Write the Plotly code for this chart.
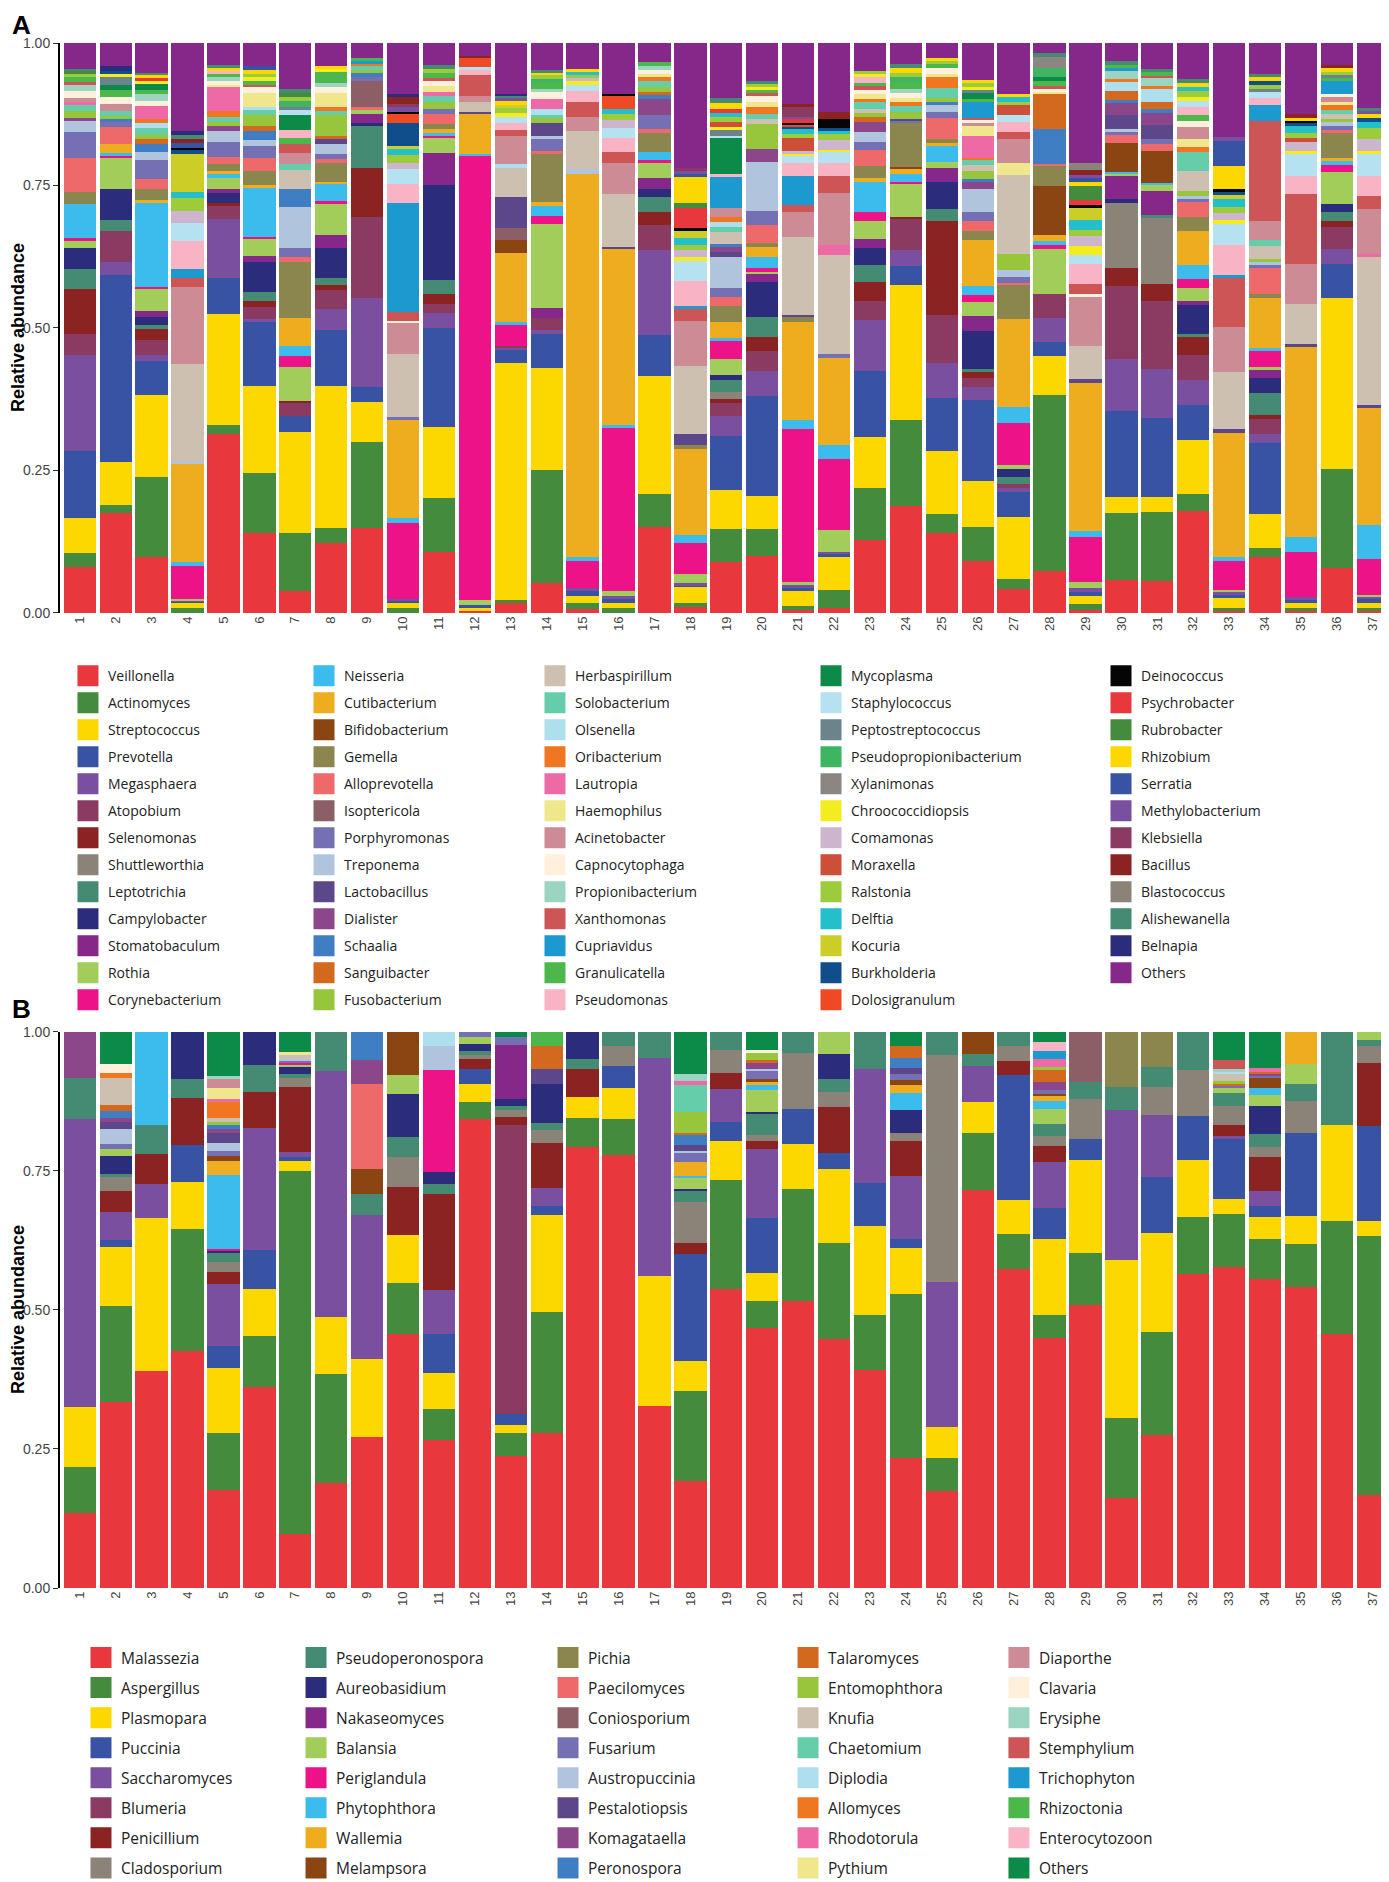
import plotly.graph_objects as go

samples = [str(i) for i in range(1, 38)]

# colour cycle used by both panels (Others just takes the next colour in the cycle)
palette = [
    "#E8383D", "#458B3E", "#FDD800", "#3953A4", "#7A4FA0", "#8B3A62", "#8B2323",
    "#8B8378", "#458B74", "#2B2C7C", "#86288A", "#A2CD5A", "#EE1289", "#3BBCEC",
    "#EEAD1E", "#8B4513", "#8B864E", "#EE6A6A", "#8B5F65", "#7570B3", "#B0C4DE",
    "#5D478B", "#8B4789", "#3F7EC2", "#D2691E", "#97C53C", "#CDC0B0", "#66CDAA",
    "#ADDFEF", "#F07622", "#EE6AA7", "#F0E68C", "#CD8C95", "#FFF0DC", "#9BD5C2",
    "#CD5555", "#1C99CF", "#4CB74A", "#F8B4C4", "#0B8A48", "#B5E1F1", "#6B838C",
    "#3FB562", "#8B8682", "#F3EC1E", "#CDB5CD", "#CD4F39", "#9CCB3C", "#23BFCB",
    "#CDCD28", "#104E8B", "#EF4A24", "#050505",
]

# ---------------- A: bacteria (relative abundance per sample 1..37) ----------------
veillonella = [.080,.176,.098,0,.314,.140,.038,.122,.149,0,
               .104,.004,.018,.053,.007,0,.150,.011,.089,.100,
               .006,.009,.127,.187,.140,.091,.042,.074,.006,.058,
               .056,.179,.004,.099,.004,.078,.004]
actinomyces = [.025,.013,.140,.009,.016,.105,.102,.027,.151,.009,
               .092,0,.005,.198,.010,.009,.058,.007,.058,.047,
               .007,.031,.092,.151,.034,.059,.018,.307,.010,.118,
               .120,.029,.005,.015,.005,.174,.005]
streptococcus = [.061,.076,.145,.009,.195,.154,.178,.250,.070,.009,
                 .122,.004,.415,.179,.012,.009,.208,.027,.069,.059,
                 .025,.058,.088,.238,.111,.082,.109,.069,.013,.027,
                 .026,.096,.018,.059,.009,.300,.009]
prevotella = [.119,.328,.059,.002,.063,.111,.027,.097,.027,.003,
              .169,.006,.025,.060,.009,.006,.071,.004,.095,.175,
              .006,.005,.116,.033,.093,.142,.044,.024,.008,.151,
              .139,.061,.005,.125,.005,.060,.006]
megasphaera = [.167,.022,.010,.002,.103,.006,0,.038,.156,.003,
               .026,0,.003,.007,.005,.005,.150,.003,.035,.044,
               .005,.004,.089,.028,.061,.022,.007,.042,.007,.091,
               .085,.043,.004,.016,.005,.027,.005]
atopobium = [.037,.055,.027,0,.023,.021,.023,.032,.141,0,
             .015,0,.003,.021,0,0,.044,0,.022,.035,
             0,0,.033,.054,.084,.016,.007,.042,0,.129,
             .119,.044,0,.026,0,.039,0]
selenomonas = [.080,0,.020,0,.005,.010,.004,.010,.087,0,
               .017,0,0,0,0,0,.022,0,.008,.024,
               0,0,.034,.004,.165,.011,0,0,0,.031,
               .029,.033,0,.007,0,.010,0]
shuttleworthia = [0] * 18 + [.012] + [0] * 10 + [.114, .116] + [0] * 6
leptotrichia = [.035,.020,.006,0,0,.016,0,.012,.074,0,
                .025,0,0,0,0,0,.027,0,.020,.035,
                0,0,.029,0,.020,.005,.011,0,0,0,
                .006,.005,0,.039,0,.016,0]
campylobacter = [.036,.053,.014,0,.017,.052,0,.053,.005,0,
                 .162,0,0,0,0,0,.014,0,.009,.062,
                 0,0,.030,0,.049,.066,.015,0,0,.007,
                 0,.050,0,.026,0,.014,0]
stomatobaculum = [0,0,.011,0,.007,.011,0,.023,.015,0,
                  .054,0,0,.017,0,0,.020,0,0,.013,
                  0,0,.016,0,.024,.027,0,0,0,.040,
                  .042,.008,0,.014,0,0,0]
rothia = [.014,.056,.039,.002,.021,.031,.060,.055,.007,0,
          .026,.008,0,.148,0,.009,.026,.016,.028,.005,
          .005,.038,.031,.058,.011,.025,.007,.078,.010,.004,
          .009,.022,.004,.005,0,.055,.003]
corynebacterium = [.003,.003,.003,.058,0,.003,.018,.003,0,.133,
                   .004,.780,.036,.013,.048,.283,.004,.055,.033,.007,
                   .269,.125,.017,.004,0,.011,.073,.007,.079,0,
                   0,.016,.051,.028,.079,.013,.063]
neisseria = [.060,.005,.147,.007,.006,.086,.018,.031,0,.010,
             .005,.004,.006,.018,.008,.006,.014,.013,.005,.018,
             .016,.024,.051,.013,.027,.017,.029,.007,.011,.004,
             .004,.024,.007,.006,.026,.007,.059]
cutibacterium = [0,.016,.005,.172,.006,.004,.050,.003,0,.172,
                 .007,.069,.120,.007,.672,.305,0,.151,.028,.018,
                 .171,.153,.008,.009,.005,.081,.153,.011,.259,0,
                 0,.060,.218,.088,.334,.006,.206]
bifidobacterium = [0,0,0,0,0,0,0,0,0,0,
                   0,0,.023,0,0,0,0,0,0,0,
                   0,0,0,.004,0,0,0,.086,0,.051,
                   .056,0,0,0,0,0,0]
gemella = [.022,0,.020,0,.012,.026,.098,.033,0,0,
           .009,0,0,.085,0,0,.034,.007,.027,.007,
           .009,0,.021,.076,.007,.015,.060,.034,0,0,
           0,.024,0,.006,0,.043,0]
alloprevotella = [.060,.030,.017,0,.012,.023,.008,.008,.005,0,
                  .016,0,0,.005,0,0,.007,0,.016,.031,
                  0,0,.028,0,.038,.018,.004,.004,0,.013,
                  .012,.027,0,.046,0,.005,0]
isoptericola = [0] * 8 + [.046] + [0] * 3 + [.021] + [0] * 24
porphyromonas = [.045,.008,.034,0,.027,.020,.017,.008,.008,.004,
                 .009,0,0,.021,0,0,.024,0,.017,.026,
                 0,.007,.014,.004,.010,.015,.011,0,0,.006,
                 .009,.005,0,.006,0,.008,0]
treponema = [.019,0,.013,.004,.019,.011,.071,.018,0,0,
             0,0,0,.004,.008,0,0,0,.054,.086,
             0,0,.018,0,.012,.041,.011,0,0,.005,
             0,.005,0,.004,0,.006,0]
lactobacillus = [0,0,0,0,0,0,0,.009,0,0,
                 0,.004,.055,.024,0,.004,0,.020,.009,0,
                 .004,0,0,.004,0,0,0,0,.007,.025,
                 .025,0,.007,0,.005,0,.005]
dialister = [.006,0,0,0,.008,0,0,0,0,0,
             0,0,0,0,0,0,.029,0,.008,.022,
             0,0,.017,0,0,.013,0,0,0,.020,
             .020,0,0,0,0,0,0]
schaalia = [0,.005,.015,0,0,.015,.031,0,.006,0,
            0,0,0,0,0,0,.007,0,.006,0,
            0,0,0,0,.005,.004,0,.061,0,.006,
            .007,0,0,0,0,0,0]
sanguibacter = [0,0,.009,0,0,.009,0,.005,0,0,
                0,0,0,0,0,0,.005,0,0,0,
                0,0,.008,0,0,0,0,.062,0,.015,
                .013,0,0,0,0,0,0]
fusobacterium = [.012,.006,.007,0,.008,.020,0,.036,.006,0,
                 .012,0,0,.008,0,0,.009,0,0,.044,
                 0,0,.007,.012,.007,.015,.028,0,0,0,
                 0,.009,0,.006,0,.006,0]
herbaspirillum = [0,0,0,.172,0,0,.035,0,0,.111,
                  0,.017,.051,0,.067,.092,0,.119,.020,.009,
                  .137,.174,.008,0,0,.010,.139,0,.058,0,
                  0,.036,.100,.022,.070,.008,.259]
solobacterium = [.010,.008,.011,0,.009,.009,.009,.007,.006,0,
                 .010,0,0,.006,0,0,.011,0,.009,.009,
                 0,0,.011,.010,.018,.009,0,0,0,0,
                 0,.032,0,.012,0,.008,0]
olsenella = [0,0,.009,0,0,.005,0,0,0,0,
             0,0,.006,.010,0,0,0,0,.009,0,
             0,0,0,0,0,0,0,0,0,.016,
             .022,0,0,0,0,0,0]
oribacterium = [0,0,.007,0,.009,0,0,.007,.005,0,
                0,0,0,0,0,0,.006,0,.009,.011,
                0,0,.006,.007,.020,.004,0,0,0,.005,
                .006,.010,0,0,0,.008,0]
lautropia = [.006,0,.024,0,.043,0,0,0,0,0,
             .008,0,0,.018,0,0,0,0,0,0,
             0,.018,0,0,0,.038,0,0,0,0,
             0,0,0,0,0,0,.005]
haemophilus = [0,0,0,0,.004,.025,0,.025,0,0,
               .010,0,0,0,0,0,.006,0,0,.009,
               0,0,.008,.008,.005,.018,.022,.004,0,0,
               0,.013,0,0,0,.006,0]
acinetobacter = [.006,.013,0,.135,0,0,.020,0,0,.056,
                 0,.011,.049,0,.024,.054,0,.080,.015,0,
                 .044,.090,0,0,0,.004,.041,0,.088,0,
                 0,.022,.078,.033,.070,.008,.080]
capnocytophaga = [.012,.012,.009,0,.007,.009,0,.010,0,.003,
                  .008,0,0,.012,0,0,.007,0,0,.011,
                  0,0,.008,.008,.011,.006,0,.004,.003,0,
                  0,.010,0,0,0,.006,0]
propionibacterium = [.012,0,.011,0,.006,0,0,.008,0,0,
                     0,0,0,.006,0,0,.006,0,0,0,
                     0,0,0,.008,0,0,0,0,0,.015,
                     .013,0,0,0,0,0,0]
xanthomonas = [.005,0,0,.015,0,.005,.015,0,0,.015,
               .005,.036,.012,0,.027,.019,0,.021,0,.005,
               .012,.030,.006,0,0,.003,.013,.005,.018,0,
               .005,0,.087,.175,.123,0,.022]
cupriavidus = [0,0,0,.017,0,0,0,0,.004,.192,
               0,0,0,0,0,0,0,.004,.055,0,
               .051,0,0,0,0,.029,0,0,0,.005,
               0,0,.005,.029,0,.022,0]
granulicatella = [.008,.012,.008,0,.006,.006,.012,.020,.005,0,
                  .008,0,0,.009,0,0,.007,0,0,.006,
                  0,0,.006,.012,.006,.004,0,.010,0,.006,
                  .006,.011,0,0,0,.006,0]
pseudomonas = [0,0,0,.048,.005,0,.014,0,0,.033,
               0,.010,.011,0,.018,.024,0,.044,.006,0,
               .022,.023,.010,0,0,0,.017,0,.035,0,
               0,.014,.053,.012,.031,0,.036]
mycoplasma = [0,.010,.010,0,0,0,.026,0,0,0,
              0,0,0,0,0,0,0,0,.062,0,
              0,0,0,0,0,.011,0,.006,0,0,
              0,0,0,0,0,0,0]
staphylococcus = [0,0,0,.032,0,0,.008,0,0,.026,
                  0,.005,.012,0,.012,.018,0,.035,.004,0,
                  .013,.019,0,0,0,0,.012,0,.016,0,
                  0,.010,.037,.010,.040,0,.038]
peptostreptococcus = [0,.014,0,0,0,0,.006,0,0,0,
                      0,0,0,0,0,0,0,0,.010,0,
                      0,0,0,0,0,.006,0,0,0,0,
                      0,0,0,.006,0,.005,0]
pseudopropionibacterium = [0,0,0,0,0,0,.010,0,0,0,
                           0,0,0,.008,0,0,0,0,0,0,
                           0,0,0,.008,0,0,0,.016,0,0,
                           0,0,0,0,0,0,0]
xylanimonas = [0] * 27 + [.020] + [0] * 9
chroococcidiopsis = [0,.004,.005,0,0,.007,0,.005,0,0,
                     0,0,.007,0,.006,0,0,.007,.006,.005,
                     .003,.005,.005,0,0,.005,0,0,.016,0,
                     0,.008,.006,0,.005,0,.005]
comamonas = [0,0,0,.022,0,0,0,0,0,.010,
             0,0,0,0,.006,.014,0,.013,0,0,
             .006,.017,0,0,0,0,0,0,.018,0,
             0,0,.013,0,.015,0,.021]
moraxella = [0,0,0,0,0,0,0,0,0,0,
             0,0,0,0,0,0,0,0,.008,0,
             .022,0,0,0,0,0,.018,0,0,0,
             0,0,0,0,.007,0,0]
ralstonia = [.006,0,0,.022,0,.005,.008,0,0,.015,
             .008,0,.008,.006,.005,.011,0,.009,.010,.005,
             .007,.010,.006,.008,.005,.006,.006,0,.010,0,
             0,.010,.010,.006,.009,.006,.019]
delftia = [0,0,0,.011,0,0,0,0,0,.010,
           0,0,0,0,.005,.009,0,.011,.006,0,
           .009,.006,0,0,0,0,.008,0,.017,0,
           0,.007,.015,0,.012,0,.012]
kocuria = [0,0,0,.066,0,0,0,0,0,.005,
           0,0,.006,0,0,0,0,.013,0,0,
           0,0,0,0,0,0,0,0,.022,0,
           0,0,.006,0,0,0,0]
burkholderia = [0,.006,0,.008,0,0,0,0,0,.041,
                0,0,0,0,0,0,0,0,0,0,
                .004,.005,0,0,0,0,0,0,0,0,
                0,0,.006,.008,.005,0,.006]
dolosigranulum = [0,0,0,0,0,0,0,0,0,.015,
                  0,.015,0,0,0,.022,0,0,0,0,
                  .004,0,0,0,0,0,0,0,0,0,
                  0,0,0,0,0,0,0]
deinococcus = [0,0,0,.003,0,0,0,0,0,.004,
               0,0,0,0,0,.003,0,.005,0,0,
               .003,.015,0,0,0,0,0,0,.005,0,
               0,0,.004,0,.004,0,0]
psychrobacter = [0,0,.005,0,0,0,0,0,0,0,
                 0,0,0,0,0,0,0,.035,.008,0,
                 .006,0,0,0,0,0,0,0,.008,0,
                 0,0,0,0,0,0,0]
rubrobacter = [.005,0,0,0,0,0,.006,0,0,0,
               0,0,0,0,0,0,0,.009,0,0,
               0,0,0,0,0,0,0,0,.025,0,
               0,0,0,0,0,0,0]
rhizobium = [0,0,.005,0,.005,.008,0,.005,0,0,
             0,0,.006,.005,.006,0,0,.046,.010,0,
             0,0,0,.008,.005,.006,.006,0,.008,0,
             0,.007,.041,.006,.006,.006,.008]
serratia = [0,0,0,.008,0,.007,0,0,0,0,
            0,0,0,0,0,0,0,.006,0,0,
            0,0,0,0,0,0,0,0,.006,0,
            0,0,.044,0,0,0,0]
methylobacterium = [0,0,0,0,0,0,0,0,0,.008,
                    0,0,.005,0,0,0,0,.005,0,0,
                    .005,0,0,0,0,0,0,0,.006,0,
                    0,0,.007,0,0,0,.005]
klebsiella = [0,0,0,0,0,0,0,0,0,.006,
              0,0,0,0,0,0,0,.005,0,0,
              .017,0,0,0,0,0,0,0,0,0,
              0,0,0,0,0,0,0]
bacillus = [0,0,0,.007,0,0,0,0,0,.012,
            0,.005,0,0,0,0,0,0,0,0,
            .005,.013,0,0,0,0,0,0,.008,0,
            0,0,0,0,.006,.006,0]
blastococcus = [0] * 28 + [.012] + [0] * 8
alishewanella = [.004,0,.005,.007,.005,0,.007,0,0,0,
                 .006,0,.004,.005,0,0,0,0,.009,.005,
                 0,0,0,.008,0,0,0,.006,0,.006,
                 .006,.007,0,.006,0,0,.005]
belnapia = [0,.008,0,.007,0,0,0,0,0,.006,
            0,0,.004,0,0,0,0,0,0,0,
            0,0,0,0,0,0,0,0,0,0,
            0,0,0,0,0,0,0]
others_a = [.045,.041,.052,.155,.039,.040,.081,.040,.027,.089,
            .038,.022,.089,.047,.045,.089,.034,.219,.096,.067,
            .107,.121,.049,.036,.027,.065,.089,.018,.211,.032,
            .045,.063,.165,.054,.125,.038,.114]

bacteria = [
    ("Veillonella", veillonella), ("Actinomyces", actinomyces), ("Streptococcus", streptococcus),
    ("Prevotella", prevotella), ("Megasphaera", megasphaera), ("Atopobium", atopobium),
    ("Selenomonas", selenomonas), ("Shuttleworthia", shuttleworthia), ("Leptotrichia", leptotrichia),
    ("Campylobacter", campylobacter), ("Stomatobaculum", stomatobaculum), ("Rothia", rothia),
    ("Corynebacterium", corynebacterium), ("Neisseria", neisseria), ("Cutibacterium", cutibacterium),
    ("Bifidobacterium", bifidobacterium), ("Gemella", gemella), ("Alloprevotella", alloprevotella),
    ("Isoptericola", isoptericola), ("Porphyromonas", porphyromonas), ("Treponema", treponema),
    ("Lactobacillus", lactobacillus), ("Dialister", dialister), ("Schaalia", schaalia),
    ("Sanguibacter", sanguibacter), ("Fusobacterium", fusobacterium), ("Herbaspirillum", herbaspirillum),
    ("Solobacterium", solobacterium), ("Olsenella", olsenella), ("Oribacterium", oribacterium),
    ("Lautropia", lautropia), ("Haemophilus", haemophilus), ("Acinetobacter", acinetobacter),
    ("Capnocytophaga", capnocytophaga), ("Propionibacterium", propionibacterium),
    ("Xanthomonas", xanthomonas), ("Cupriavidus", cupriavidus), ("Granulicatella", granulicatella),
    ("Pseudomonas", pseudomonas), ("Mycoplasma", mycoplasma), ("Staphylococcus", staphylococcus),
    ("Peptostreptococcus", peptostreptococcus), ("Pseudopropionibacterium", pseudopropionibacterium),
    ("Xylanimonas", xylanimonas), ("Chroococcidiopsis", chroococcidiopsis), ("Comamonas", comamonas),
    ("Moraxella", moraxella), ("Ralstonia", ralstonia), ("Delftia", delftia), ("Kocuria", kocuria),
    ("Burkholderia", burkholderia), ("Dolosigranulum", dolosigranulum), ("Deinococcus", deinococcus),
    ("Psychrobacter", psychrobacter), ("Rubrobacter", rubrobacter), ("Rhizobium", rhizobium),
    ("Serratia", serratia), ("Methylobacterium", methylobacterium), ("Klebsiella", klebsiella),
    ("Bacillus", bacillus), ("Blastococcus", blastococcus), ("Alishewanella", alishewanella),
    ("Belnapia", belnapia), ("Others", others_a),
]

# ---------------- B: fungi ----------------
malassezia = [.135,.333,.390,.427,.175,.361,.096,.189,.271,.456,
              .266,.843,.238,.278,.794,.778,.328,.190,.538,.464,
              .516,.447,.392,.234,.175,.715,.573,.447,.509,.162,
              .276,.564,.566,.548,.541,.457,.167]
aspergillus = [.082,.173,0,.218,.101,.093,.651,.195,0,.092,
               .056,.031,.040,.218,.051,.065,0,.160,.196,.048,
               .201,.173,.099,.293,.058,.103,.064,.040,.094,.144,
               .185,.103,.094,.071,.077,.203,.466]
plasmopara = [.108,.104,.276,.086,.115,.084,.017,.104,.141,.087,
              .065,.032,.015,.175,.038,.056,.234,.054,.069,.050,
              .082,.134,.160,.083,.057,.056,.061,.136,.166,.284,
              .178,.102,.027,.039,.051,.173,.027]
puccinia = [0,.013,0,.065,.040,.069,.008,0,0,0,
            .070,.027,.020,.016,0,.040,0,.189,.035,.097,
            .062,.029,.078,.016,0,0,.224,.056,.039,0,
            .100,.079,.106,.018,.150,0,.171]
saccharomyces = [.518,.050,.060,0,.110,.221,.009,.441,.258,0,
                 .079,0,0,.032,0,0,.392,0,.059,.124,
                 0,0,.204,.114,.261,.064,0,.082,0,.270,
                 .112,0,.004,.028,0,0,0]
blumeria = [0] * 12 + [.520] + [0] * 24
penicillium = [0,.039,.054,.086,.021,.064,.116,0,0,.087,
               .173,.019,.014,.080,.050,0,0,.020,.030,.013,
               0,.082,0,.063,0,0,.025,.029,0,0,
               0,0,.019,.059,0,0,.113]
cladosporium = [0,.024,0,0,.018,0,.016,0,0,.054,
                0,.007,.013,.023,0,.035,0,.072,.041,.012,
                .101,.027,0,.014,.407,0,.027,.018,.071,0,
                .050,.083,.035,.018,.056,0,.031]
pseudoperonospora = [.075,.006,.053,.033,.015,.048,.007,.071,.039,.035,
                     .017,.007,.007,.014,.019,.026,.046,.022,.032,.037,
                     .038,.023,.067,0,.042,.023,.026,.020,.031,.041,
                     .036,.069,.023,.024,.032,.167,.011]
aureobasidium = [0,.032,0,.085,.005,.060,.012,0,0,.077,
                 .023,.013,.012,.070,.048,0,0,.002,0,.003,
                 0,.046,0,.041,0,0,0,0,0,0,
                 0,0,0,.048,0,0,0]
nakaseomyces = [0] * 12 + [.098] + [0] * 24
balansia = [0,.013,0,0,0,0,.004,0,0,.034,
            0,.012,0,0,0,0,0,.020,0,.040,
            0,.039,0,0,0,0,0,.027,0,0,
            0,0,.009,.021,.036,0,.014]
periglandula = [0,0,0,0,.003,0,.003,0,0,0,.182] + [0] * 26
phytophthora = [0,0,.167,0,.132,0,0,0,0,0,
                0,0,0,0,0,0,0,.003,0,.008,
                0,0,0,.031,0,0,0,.015,0,0,
                0,0,0,.011,0,0,0]
wallemia = [0,0,0,0,.024,0,0,0,0,0,
            0,0,0,0,0,0,0,.025,0,.005,
            0,0,0,.013,0,0,0,.009,0,0,
            0,0,0,0,.057,0,0]
melampsora = [0,0,0,0,.009,0,0,0,.044,.078,
              0,0,0,0,0,0,0,0,0,.007,
              0,0,0,.009,0,.039,0,.004,0,0,
              0,0,0,.019,0,0,0]
pichia = [0] * 29 + [.099, .063] + [0] * 6
paecilomyces = [0] * 8 + [.153] + [0] * 28
coniosporium = [0] * 28 + [.090] + [0] * 8
fusarium = [0,.008,0,0,.009,0,.004,0,0,0,
            0,.009,.014,0,0,0,0,.016,0,.013,
            0,0,0,.011,0,0,0,.007,0,0,
            0,0,.003,.004,0,0,0]
austropuccinia = [0,.027,0,0,.014,0,.004,0,0,0,
                  .043,0,0,0,0,0,0,.004,0,.004,
                  0,0,0,0,0,0,0,0,0,0,
                  0,0,0,0,0,0,0]
pestalotiopsis = [0,.013,0,0,.018,0,0,0,0,0,
                  0,0,0,.026,0,0,0,.010,0,0,
                  0,0,0,.012,0,0,0,0,0,0,
                  0,0,0,0,0,0,0]
komagataella = [.082,.006,0,0,.007,0,0,0,.044,0,
                0,0,0,0,0,0,0,0,0,.011,
                0,0,0,0,0,0,0,.014,0,0,
                0,0,0,.003,0,0,0]
peronospora = [0,.013,0,0,.007,0,0,0,.050,0,
               0,0,0,0,0,0,0,.018,0,0,
               0,0,0,.018,0,0,0,0,0,0,
               0,0,0,0,0,0,0]
talaromyces = [0,.012,0,0,0,0,0,0,0,0,
               0,0,0,.041,0,0,0,.003,0,.005,
               0,0,0,.020,0,0,0,.021,0,0,
               0,0,.004,.003,0,0,0]
entomophthora = [0,0,0,0,.005,0,0,0,0,0,
                 0,0,0,0,0,0,0,.037,0,.014,
                 0,0,0,0,0,0,0,.006,0,0,
                 0,0,.004,0,0,0,0]
knufia = [0,.048,0,0,.008,0,.006,0,0,0,
          0,0,0,0,0,0,0,0,0,0,
          0,0,0,0,0,0,0,0,0,0,
          0,0,.014,0,0,0,0]
chaetomium = [0] * 17 + [.048] + [0] * 19
diplodia = [0] * 10 + [.026] + [0] * 21 + [.003] + [0] * 4
allomyces = [0,.009,0,0,.030] + [0] * 32
rhodotorula = [0,0,0,0,.003,0,0,0,0,0,
               0,0,0,0,0,0,0,.007,0,0,
               0,0,0,0,0,0,0,.014,0,0,
               0,0,0,.007,0,0,0]
pythium = [0,0,0,0,.021,0,.006] + [0] * 30
diaporthe = [0,0,0,0,.016] + [0] * 32
clavaria = [0,.016] + [0] * 17 + [.003] + [0] * 17
erysiphe = [0,0,0,0,.005,0,0,0,0,0,
            0,0,0,0,0,0,0,.013,0,0,
            0,0,0,0,0,0,0,0,0,0,
            0,0,.004,0,0,0,0]
stemphylium = [0] * 32 + [.016] + [0] * 4
trichophyton = [0] * 27 + [.014] + [0] * 9
rhizoctonia = [0] * 13 + [.026] + [0] * 23
enterocytozoon = [0] * 27 + [.016] + [0] * 9
others_b = [0,.057,0,0,.078,0,.036,0,0,0,
            0,0,.009,0,0,0,0,.075,0,.033,
            0,0,0,.026,0,0,0,.018,0,0,
            0,0,.050,.064,0,0,0]

fungi = [
    ("Malassezia", malassezia), ("Aspergillus", aspergillus), ("Plasmopara", plasmopara),
    ("Puccinia", puccinia), ("Saccharomyces", saccharomyces), ("Blumeria", blumeria),
    ("Penicillium", penicillium), ("Cladosporium", cladosporium),
    ("Pseudoperonospora", pseudoperonospora), ("Aureobasidium", aureobasidium),
    ("Nakaseomyces", nakaseomyces), ("Balansia", balansia), ("Periglandula", periglandula),
    ("Phytophthora", phytophthora), ("Wallemia", wallemia), ("Melampsora", melampsora),
    ("Pichia", pichia), ("Paecilomyces", paecilomyces), ("Coniosporium", coniosporium),
    ("Fusarium", fusarium), ("Austropuccinia", austropuccinia), ("Pestalotiopsis", pestalotiopsis),
    ("Komagataella", komagataella), ("Peronospora", peronospora), ("Talaromyces", talaromyces),
    ("Entomophthora", entomophthora), ("Knufia", knufia), ("Chaetomium", chaetomium),
    ("Diplodia", diplodia), ("Allomyces", allomyces), ("Rhodotorula", rhodotorula),
    ("Pythium", pythium), ("Diaporthe", diaporthe), ("Clavaria", clavaria),
    ("Erysiphe", erysiphe), ("Stemphylium", stemphylium), ("Trichophyton", trichophyton),
    ("Rhizoctonia", rhizoctonia), ("Enterocytozoon", enterocytozoon), ("Others", others_b),
]

for name, vals in bacteria + fungi:
    assert len(vals) == 37, name

fig = go.Figure()


def legend_key(n):
    return "legend" if n == 1 else f"legend{n}"


def add_panel(genera, xa, ya, rows, first_legend):
    for i, (name, vals) in enumerate(genera):
        color = palette[i % len(palette)]
        key = legend_key(first_legend + i // rows)
        fig.add_trace(go.Bar(
            x=samples, y=vals, name=name, xaxis=xa, yaxis=ya,
            marker=dict(color=color, line=dict(width=0)),
            legendgroup=name, legend=key, showlegend=False,
            hovertemplate=name + "<br>sample %{x}: %{y:.3f}<extra></extra>",
        ))
        # legend-only entry so the swatch is a big square like the original
        fig.add_trace(go.Scatter(
            x=[None], y=[None], mode="markers", name=name, xaxis=xa, yaxis=ya,
            marker=dict(symbol="square", size=16, color=color, line=dict(color=color, width=5)),
            legendgroup=name, legend=key, showlegend=True, hoverinfo="skip",
        ))


add_panel(bacteria, "x", "y", 13, 1)
add_panel(fungi, "x2", "y2", 8, 6)

# the page body adds an 8px margin, so the figure itself is laid out 8px up/left
legend_a_x = [0.0060, 0.1836, 0.3574, 0.5651, 0.7833]
legend_b_x = [0.0158, 0.1776, 0.3672, 0.5478, 0.7065]
legends = {}
for c, lx in enumerate(legend_a_x):
    legends[legend_key(1 + c)] = dict(
        x=lx, y=0.6006, xanchor="left", yanchor="top", orientation="v",
        traceorder="grouped", tracegroupgap=5.8, bgcolor="rgba(0,0,0,0)",
        font=dict(family="Open Sans", size=14, color="#222"),
    )
for c, lx in enumerate(legend_b_x):
    legends[legend_key(6 + c)] = dict(
        x=lx, y=-0.0343, xanchor="left", yanchor="top", orientation="v",
        traceorder="grouped", tracegroupgap=6.9, bgcolor="rgba(0,0,0,0)",
        font=dict(family="Open Sans", size=15.5, color="#222"),
    )

yaxis_style = dict(
    range=[0, 1], tickvals=[0, 0.25, 0.5, 0.75, 1],
    ticktext=["0.00", "0.25", "0.50", "0.75", "1.00"],
    ticks="outside", ticklen=5, tickwidth=1.2, tickcolor="#333",
    showline=True, linewidth=2, linecolor="black",
    showgrid=False, zeroline=False,
    tickfont=dict(size=14, color="#444"),
)
xaxis_style = dict(
    type="category", range=[-0.55, 36.45], tickangle=-90,
    ticks="", showline=False, showgrid=False, zeroline=False,
    tickfont=dict(size=13, color="#444"),
)

dom_a = [0.6311, 1]
dom_b = [0, 0.3599]


def title_note(dom):
    return dict(text="<b>Relative abundance</b>", textangle=-90, x=-0.0316, y=sum(dom) / 2,
                xref="paper", yref="paper", xanchor="center", yanchor="middle",
                showarrow=False, font=dict(size=18, color="black"))


fig.update_layout(
    width=1381, height=1874,
    margin=dict(l=52, r=0, t=35, b=294, autoexpand=False),
    barmode="stack", barnorm="fraction", bargap=0.1,
    plot_bgcolor="white", paper_bgcolor="white",
    font=dict(family="Liberation Sans", color="#222"),
    xaxis=dict(xaxis_style, anchor="y"),
    yaxis=dict(yaxis_style, domain=dom_a, anchor="x"),
    xaxis2=dict(xaxis_style, anchor="y2"),
    yaxis2=dict(yaxis_style, domain=dom_b, anchor="x2"),
    annotations=[
        dict(text="<b>A</b>", x=-0.0376, y=1.0224, xref="paper", yref="paper",
             xanchor="left", yanchor="top", showarrow=False, font=dict(size=26, color="black")),
        dict(text="<b>B</b>", x=-0.0376, y=0.3748, xref="paper", yref="paper",
             xanchor="left", yanchor="middle", showarrow=False, font=dict(size=26, color="black")),
        title_note(dom_a),
        title_note(dom_b),
    ],
    **legends,
)

fig.write_html("out.html")
